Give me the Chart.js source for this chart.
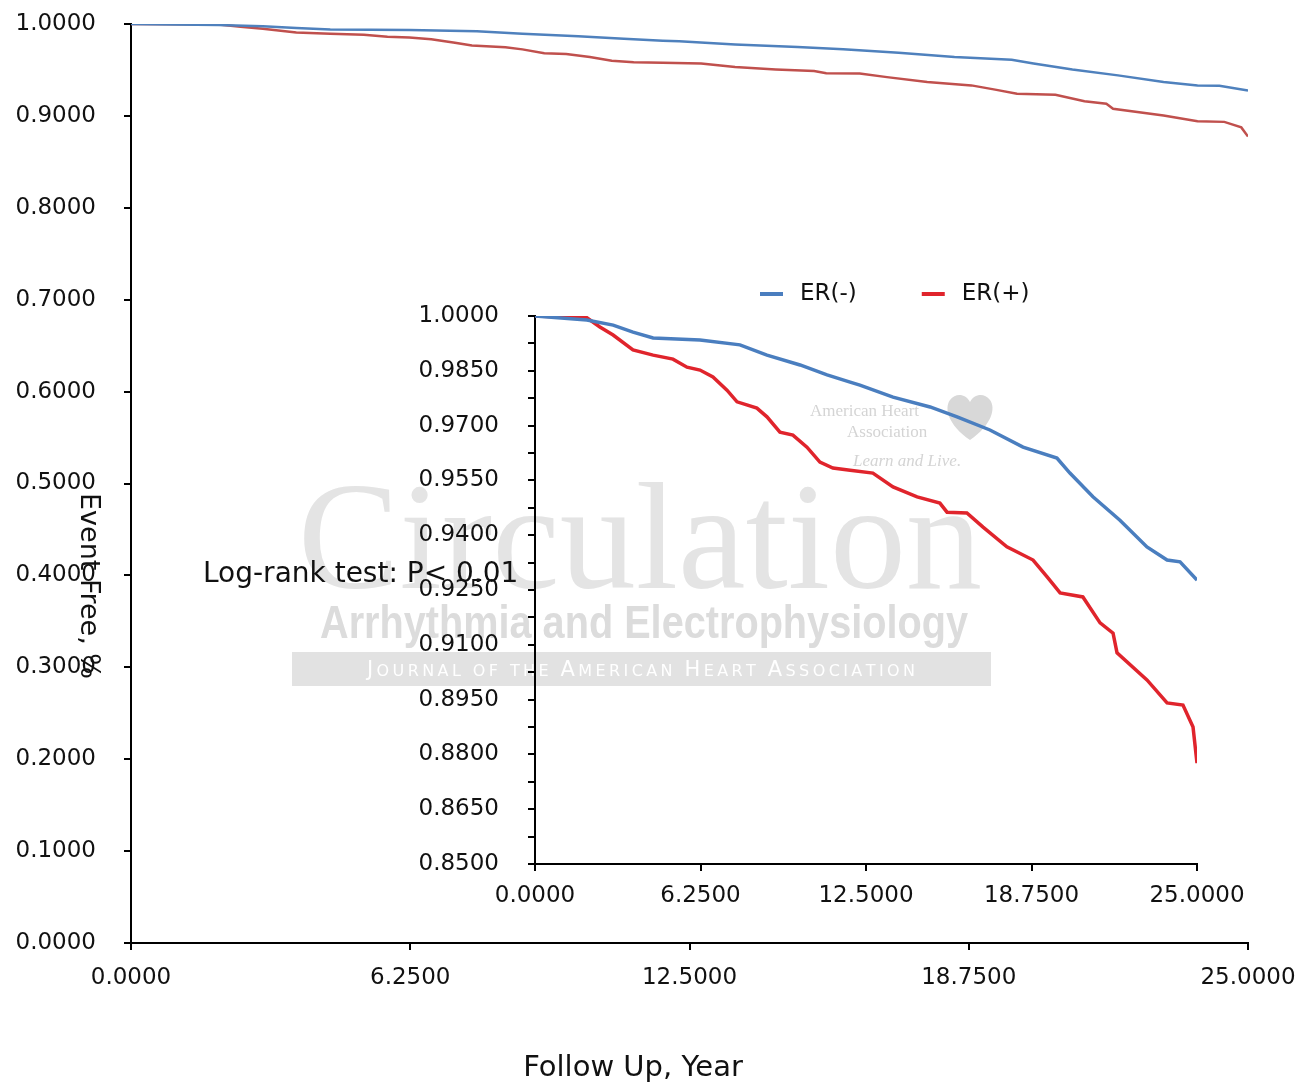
<!DOCTYPE html>
<html>
<head>
<meta charset="utf-8">
<script src="https://cdn.jsdelivr.net/npm/chart.js@4.4.1/dist/chart.umd.min.js"></script>
<style>
  html, body { margin: 0; padding: 0; background: #fff; }
  #wrap { position: relative; width: 1300px; height: 1087px; }
  #mainChart { position: absolute; left: 0; top: 0; }
  #insetChart { position: absolute; left: 380px; top: 270px; }
</style>
</head>
<body>
<div id="wrap">
  <canvas id="mainChart" width="1300" height="1087"></canvas>
  <canvas id="insetChart" width="900" height="660"></canvas>
</div>
<script>
// Kaplan-Meier curves (years, event-free proportion)
const erNegYears = [0, 1.96, 2.95, 3.70, 4.46, 6.23, 7.74, 8.76, 10.01, 11.03, 11.90, 12.27, 13.52, 14.92, 15.94, 17.18, 18.43, 19.71, 20.20, 21.07, 22.09, 23.11, 23.87, 24.36, 25.0];
const erNegSurv  = [1.0, 0.9989, 0.9975, 0.9956, 0.9940, 0.9934, 0.9921, 0.9893, 0.9866, 0.9839, 0.9819, 0.9811, 0.9778, 0.9751, 0.9724, 0.9688, 0.9641, 0.9611, 0.9570, 0.9505, 0.9441, 0.9368, 0.9332, 0.9327, 0.9277];

const erPosYears = [0, 1.96, 2.45, 2.95, 3.70, 4.46, 5.21, 5.74, 6.23, 6.72, 7.25, 7.63, 8.38, 8.76, 9.25, 9.74, 10.27, 10.76, 11.25, 11.90, 12.76, 13.52, 14.43, 15.29, 15.56, 16.31, 16.92, 17.82, 18.81, 19.34, 19.83, 20.69, 21.34, 21.83, 21.98, 23.11, 23.87, 24.47, 24.85, 25.0];
const erPosSurv  = [1.0, 0.9995, 0.9970, 0.9948, 0.9907, 0.9893, 0.9882, 0.9860, 0.9852, 0.9833, 0.9797, 0.9765, 0.9748, 0.9724, 0.9682, 0.9674, 0.9641, 0.9600, 0.9584, 0.9578, 0.9570, 0.9532, 0.9505, 0.9488, 0.9463, 0.9461, 0.9422, 0.9368, 0.9332, 0.9286, 0.9242, 0.9231, 0.9160, 0.9132, 0.9078, 0.9004, 0.8941, 0.8935, 0.8875, 0.8776];

const seriesLabels = ['ER(-)', 'ER(+)'];
const xTickStep = 6.25;
const mainYStep = 0.1;
const insetYStep = 0.0075;

function toPoints(xs, ys) {
    return xs.map((x, i) => ({ x: x, y: ys[i] }));
}

const tickFont = { family: 'DejaVu Sans', size: 23 };

function axisOpts(extra) {
    return Object.assign({
        type: 'linear',
        grid: { display: true, drawOnChartArea: false, drawTicks: true, tickLength: 7, color: '#000', lineWidth: 2 },
        border: { display: true, color: '#000', width: 2 }
    }, extra);
}

// keep Chart.js from growing the plot margins because of label padding
function fixY(width) {
    return s => { s.width = width; s.paddingTop = 14; s.paddingBottom = 14; };
}
function fixX(height) {
    return s => { s.height = height; s.paddingLeft = 0; s.paddingRight = 0; };
}

// watermark + titles for the big chart
const mainDecor = {
    id: 'mainDecor',
    beforeDatasetsDraw(chart) {
        const ctx = chart.ctx;
        ctx.save();
        ctx.textAlign = 'center';
        ctx.textBaseline = 'alphabetic';
        ctx.fillStyle = '#e4e4e4';
        ctx.font = '152px "Liberation Serif"';
        ctx.fillText('Circulation', 640, 588, 692);
        ctx.fillStyle = '#dcdcdc';
        ctx.font = 'bold 46px "Liberation Sans"';
        ctx.fillText('Arrhythmia and Electrophysiology', 644, 638, 648);

        ctx.fillStyle = '#e2e2e2';
        ctx.fillRect(292, 652, 699, 34);

        // small caps line
        const txt = 'Journal of the American Heart Association';
        const parts = [];
        let total = 0;
        for (const ch of txt) {
            const big = ch !== ' ' && ch === ch.toUpperCase();
            ctx.font = (big ? 21 : 16) + 'px "DejaVu Sans"';
            const w = ctx.measureText(ch.toUpperCase()).width;
            parts.push({ ch: ch.toUpperCase(), big: big, w: w });
            total += w;
        }
        const gap = (548 - total) / (parts.length - 1);
        let px = 367;
        ctx.textAlign = 'left';
        ctx.fillStyle = '#ffffff';
        parts.forEach(p => {
            ctx.font = (p.big ? 21 : 16) + 'px "DejaVu Sans"';
            ctx.fillText(p.ch, px, 676);
            px += p.w + gap;
        });

        // AHA block
        ctx.fillStyle = '#d4d4d4';
        ctx.font = '17px "Liberation Serif"';
        ctx.fillText('American Heart', 810, 416);
        ctx.fillText('Association', 847, 437);
        ctx.font = 'italic 17px "Liberation Serif"';
        ctx.fillText('Learn and Live.', 853, 466);
        ctx.fillStyle = '#d8d8d8';
        ctx.beginPath();
        ctx.moveTo(970, 440);
        ctx.bezierCurveTo(948, 425, 944, 408, 950, 400);
        ctx.bezierCurveTo(956, 392, 966, 394, 970, 402);
        ctx.bezierCurveTo(974, 394, 984, 392, 990, 400);
        ctx.bezierCurveTo(996, 408, 992, 425, 970, 440);
        ctx.fill();
        ctx.restore();
    },
    afterDraw(chart) {
        const ctx = chart.ctx;
        ctx.save();
        ctx.fillStyle = '#111';
        ctx.textBaseline = 'middle';
        ctx.textAlign = 'center';
        ctx.font = '29px "DejaVu Sans"';
        ctx.fillText('Follow Up, Year', 633, 1068);

        ctx.translate(88, 586);
        ctx.rotate(Math.PI / 2);
        ctx.font = '27px "DejaVu Sans"';
        ctx.fillText('Event Free, %', 0, 0);
        ctx.restore();

        ctx.save();
        ctx.fillStyle = '#111';
        ctx.textBaseline = 'middle';
        ctx.textAlign = 'left';
        ctx.font = '28px "DejaVu Sans"';
        ctx.fillText('Log-rank test: P< 0.01', 203, 575);
        ctx.restore();
    }
};

// legend drawn above the inset
const insetLegend = {
    id: 'insetLegend',
    afterDraw(chart) {
        const ctx = chart.ctx;
        const area = chart.chartArea;
        let x = area.left + 225;
        const y = area.top - 22;
        ctx.save();
        ctx.font = '23px "DejaVu Sans"';
        ctx.textBaseline = 'middle';
        ctx.textAlign = 'left';
        chart.data.datasets.forEach(ds => {
            ctx.strokeStyle = ds.borderColor;
            ctx.lineWidth = 4;
            ctx.beginPath();
            ctx.moveTo(x, y);
            ctx.lineTo(x + 23, y);
            ctx.stroke();
            ctx.fillStyle = '#111';
            ctx.fillText(ds.label, x + 40, y);
            x += 40 + ctx.measureText(ds.label).width + 65;
        });
        ctx.restore();
    }
};

new Chart(document.getElementById('mainChart'), {
    type: 'line',
    data: {
        datasets: [
            { label: seriesLabels[0], data: toPoints(erNegYears, erNegSurv), borderColor: '#4f81bd', borderWidth: 2.5 },
            { label: seriesLabels[1], data: toPoints(erPosYears, erPosSurv), borderColor: '#c0504d', borderWidth: 2.5 }
        ]
    },
    options: {
        responsive: false,
        animation: false,
        layout: { padding: { left: 0, top: 24, right: 52, bottom: 0 } },
        elements: { point: { radius: 0 }, line: { tension: 0 } },
        plugins: { legend: { display: false }, tooltip: { enabled: false } },
        scales: {
            x: axisOpts({
                min: 0, max: 25,
                ticks: { stepSize: xTickStep, callback: v => v.toFixed(4), color: '#111', font: tickFont, padding: 14, maxRotation: 0, autoSkip: false },
                afterFit: fixX(144)
            }),
            y: axisOpts({
                min: 0, max: 1,
                ticks: { stepSize: mainYStep, callback: v => v.toFixed(4), color: '#111', font: tickFont, padding: 28 },
                afterFit: fixY(131)
            })
        }
    },
    plugins: [mainDecor]
});

new Chart(document.getElementById('insetChart'), {
    type: 'line',
    data: {
        datasets: [
            { label: seriesLabels[0], data: toPoints(erNegYears, erNegSurv), borderColor: '#4a7ebf', borderWidth: 3.5 },
            { label: seriesLabels[1], data: toPoints(erPosYears, erPosSurv), borderColor: '#e0242c', borderWidth: 3.5 }
        ]
    },
    options: {
        responsive: false,
        animation: false,
        layout: { padding: { left: 0, top: 46, right: 83, bottom: 0 } },
        elements: { point: { radius: 0 }, line: { tension: 0 } },
        plugins: { legend: { display: false }, tooltip: { enabled: false } },
        scales: {
            x: axisOpts({
                min: 0, max: 25,
                ticks: { stepSize: xTickStep, callback: v => v.toFixed(4), color: '#111', font: tickFont, padding: 11, maxRotation: 0, autoSkip: false },
                afterFit: fixX(66)
            }),
            y: axisOpts({
                min: 0.85, max: 1.0,
                ticks: { stepSize: insetYStep, autoSkip: false, callback: (v, i) => (i % 2 === 0 ? v.toFixed(4) : ''), color: '#111', font: tickFont, padding: 29 },
                afterFit: fixY(155)
            })
        }
    },
    plugins: [insetLegend]
});
</script>
</body>
</html>
